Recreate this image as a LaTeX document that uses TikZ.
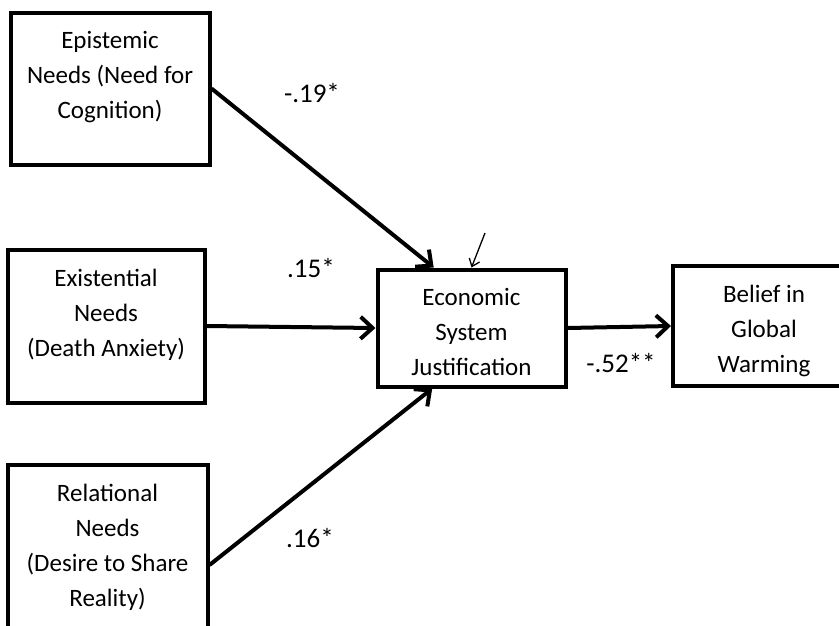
\documentclass[tikz,border=0pt]{standalone}
\usepackage{fontspec}
\setmainfont{Carlito}
\usetikzlibrary{arrows.meta, positioning}

\begin{document}
\begin{tikzpicture}[x=1pt, y=-1pt,
        needbox/.style={draw, line width=4pt, inner sep=0pt},
        boxtext/.style={anchor=north, yshift=-21pt, align=center, inner sep=0pt, font=\fontsize{25}{35}\selectfont},
        coef/.style={inner sep=0pt, font=\fontsize{27}{32}\selectfont},
        patharrow/.style={line width=4pt, -{Straight Barb[length=12pt, width=22pt]}}]
        \useasboundingbox (0, 0) rectangle (839, 625);
        \clip (0, 0) rectangle (839, 625);

        \node[needbox, minimum width=199pt, minimum height=152pt,
            label={[boxtext]north:{Epistemic\\Needs (Need for\\Cognition)}}] (epi) at (110, 88.5) {};
        \node[needbox, minimum width=197pt, minimum height=153pt,
            label={[boxtext]north:{Existential\\Needs\\(Death Anxiety)}}] (exi) at (106, 326) {};
        \node[needbox, minimum width=200pt, minimum height=200pt,
            label={[boxtext]north:{Relational\\Needs\\(Desire to Share\\Reality)}}] (rel) at (107.5, 565) {};

        \node[needbox, minimum width=188pt, minimum height=117pt,
            label={[boxtext]north:{Economic\\System\\Justification}}] (econ) at (471.5, 328) {};
        \node[needbox, minimum width=182pt, minimum height=120pt,
            label={[boxtext]north:{Belief in\\Global\\Warming}}] (bel) at (764, 326) {};

        \draw[patharrow] (epi.east) -- (econ.122);
        \draw[patharrow] (exi.east) -- (econ.west);
        \draw[patharrow] (rel.east) -- (econ.237);
        \draw[patharrow] (econ.east) -- (bel.west);

        % error term
        \coordinate (err) at (485, 233);
        \draw[line width=1.3pt, -{Straight Barb[length=7pt, width=11pt]}] (err) -- (econ.north);

        \node[coef] (bepi) at (312, 93) {-.19*};
        \node[coef] (bexi) at (311, 268) {.15*};
        \node[coef] (brel) at (310, 538) {.16*};
        \node[coef] (bbel) at (621, 363) {-.52**};
    \end{tikzpicture}
\end{document}
